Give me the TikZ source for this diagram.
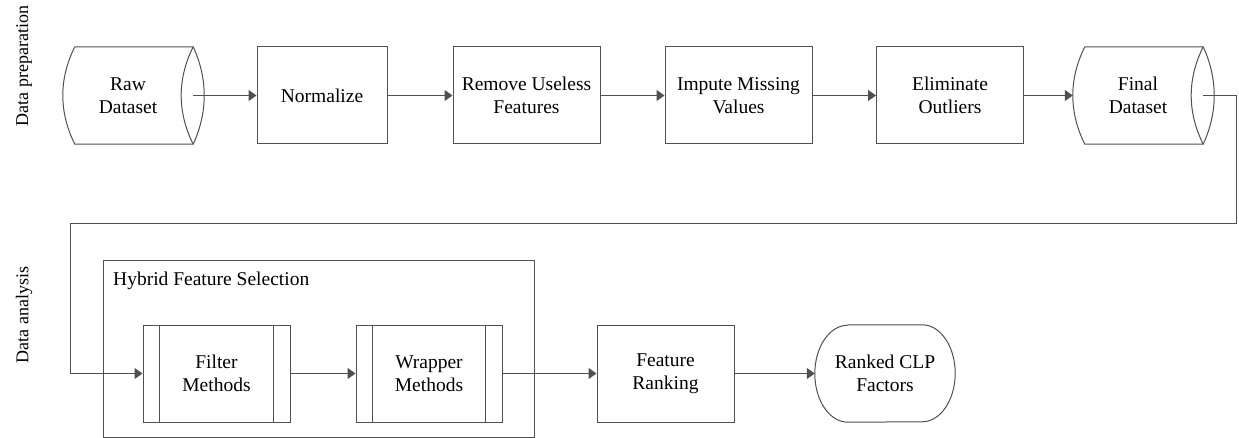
\documentclass[tikz,border=0pt]{standalone}
\usepackage{fontspec}
\setmainfont{Liberation Serif}
\usetikzlibrary{arrows.meta}
\definecolor{linegray}{RGB}{80,80,80}
\newcommand\boxfont{\fontsize{19.5}{22.5}\selectfont}
\newcommand\sidefont{\fontsize{18}{22}\selectfont}
\tikzset{
  proc/.style={draw=linegray, line width=1pt, minimum height=97pt,
    inner sep=0pt, align=center, font=\boxfont},
  plain/.style={minimum height=97pt, inner sep=0pt, align=center, font=\boxfont},
  outline/.style={draw=linegray, line width=1pt},
  conn/.style={draw=linegray, line width=1pt,
    -{Triangle[length=8pt,width=11pt]}},
}
\begin{document}
\begin{tikzpicture}[x=1pt,y=-1pt]
\useasboundingbox (0,0) rectangle (1239,438);

% side labels
\node[rotate=90, font=\sidefont] (prep) at (24,66) {Data preparation};
\node[rotate=90, font=\sidefont] (ana) at (24,315) {Data analysis};

% ---- data preparation row ----
\node[plain, minimum width=130pt] (raw) at (128,95.5) {Raw\\Dataset};
\node[proc, minimum width=130pt] (norm) at (322,95.5) {Normalize};
\node[proc, minimum width=147pt] (rem) at (526.5,95.5) {Remove Useless\\Features};
\node[proc, minimum width=147pt] (imp) at (738.5,95.5) {Impute Missing\\Values};
\node[proc, minimum width=147pt] (elim) at (950,95.5) {Eliminate\\Outliers};
\node[plain, minimum width=130pt] (final) at (1138,95.5) {Final\\Dataset};

% stored-data outlines
\foreach \n in {raw,final}{
  \draw[outline] ([xshift=12pt]\n.north west) -- (\n.north east)
    .. controls +(14.7,32) and +(14.7,-32) .. (\n.south east)
    -- ([xshift=12pt]\n.south west)
    .. controls +(-16,-32) and +(-16,32) .. ([xshift=12pt]\n.north west);
  \draw[outline] (\n.north east)
    .. controls +(-16,32) and +(-16,-32) .. (\n.south east);
}

% ---- data analysis row ----
\node[draw=linegray, line width=1pt, minimum width=431pt, minimum height=176pt,
  inner sep=0pt] (hyb) at (318.5,349) {};
\node[anchor=base west, font=\boxfont, inner sep=0pt] (hybtitle) at (113,286)
  {Hybrid Feature Selection};

\node[proc, minimum width=147pt] (filter) at (216.5,373.5) {Filter\\Methods};
\node[proc, minimum width=146pt] (wrap) at (429,373.5) {Wrapper\\Methods};
\foreach \n in {filter,wrap}{
  \draw[outline] ([xshift=17pt]\n.north west) -- ([xshift=17pt]\n.south west);
  \draw[outline] ([xshift=-17pt]\n.north east) -- ([xshift=-17pt]\n.south east);
}
\node[proc, minimum width=137pt] (rank) at (665.5,373.5) {Feature\\Ranking};
\node[plain, minimum width=140pt] (clp) at (885,373.5) {Ranked CLP\\Factors};
\draw[outline] ([xshift=33pt]clp.north west) -- ([xshift=-33pt]clp.north east)
  arc[start angle=90, end angle=-90, x radius=33pt, y radius=48.5pt]
  -- ([xshift=33pt]clp.south west)
  arc[start angle=270, end angle=90, x radius=33pt, y radius=48.5pt];

% ---- connectors ----
\draw[conn] (raw.east) -- (norm.west);
\draw[conn] (norm.east) -- (rem.west);
\draw[conn] (rem.east) -- (imp.west);
\draw[conn] (imp.east) -- (elim.west);
\draw[conn] (elim.east) -- (final.west);

\coordinate (loopR) at (1236,224);
\coordinate (loopL) at (70,224);
\draw[conn] (final.east) -| (loopR) -- (loopL) |- (filter.west);

\draw[conn] (filter.east) -- (wrap.west);
\draw[conn] (wrap.east) -- (rank.west);
\draw[conn] (rank.east) -- (clp.west);
\end{tikzpicture}
\end{document}
